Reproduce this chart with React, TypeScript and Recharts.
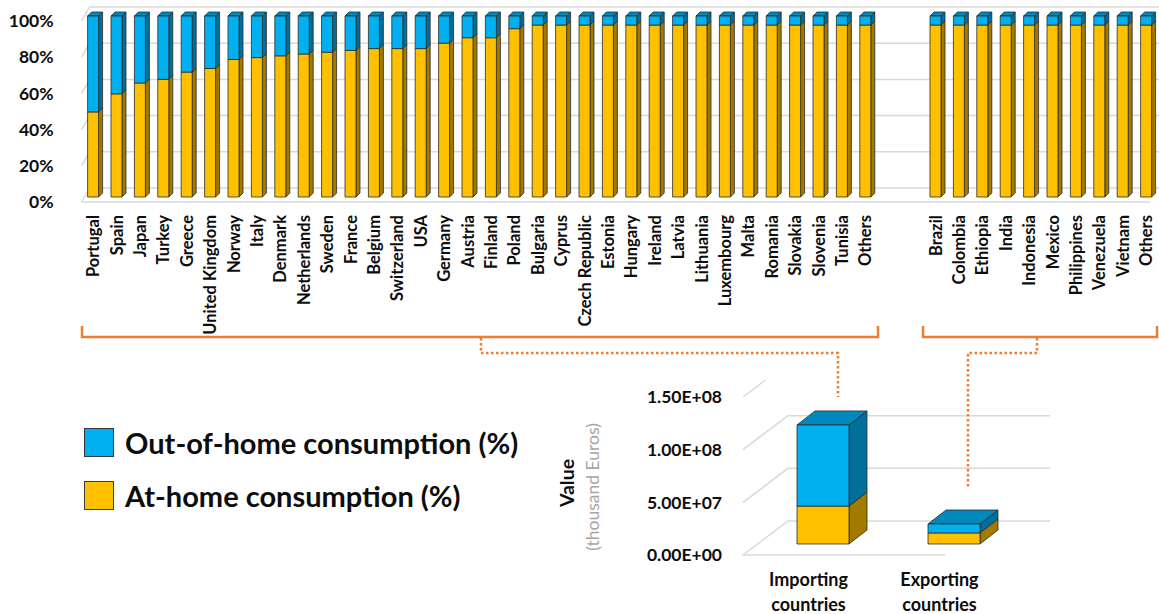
import { Bar, BarChart, CartesianGrid, Label, XAxis, YAxis } from "recharts";

const BLUE = "#00b0f0";
const BLUE_TOP = "#0089bd";
const BLUE_SIDE = "#006f99";
const GOLD = "#ffc000";
const GOLD_SIDE = "#a37a00";
const EDGE = "#2b2b2b";
const GRID = "#d9d9d9";
const ORANGE = "#ed7d31";
const INK = "#0d0d0d";
const FONT = "Lato, 'Open Sans', sans-serif";

// ── Share of at-home consumption per country (%) ────────────────────────────
const IMPORTERS = [
  "Portugal", "Spain", "Japan", "Turkey", "Greece", "United Kingdom", "Norway",
  "Italy", "Denmark", "Netherlands", "Sweden", "France", "Belgium", "Switzerland",
  "USA", "Germany", "Austria", "Finland", "Poland", "Bulgaria", "Cyprus",
  "Czech Republic", "Estonia", "Hungary", "Ireland", "Latvia", "Lithuania",
  "Luxembourg", "Malta", "Romania", "Slovakia", "Slovenia", "Tunisia", "Others",
];
const IMPORTER_AT_HOME = [
  47, 57, 63, 65, 69, 71, 76, 77, 78, 79, 80, 81, 82, 82, 82, 85, 88, 88, 93,
  95, 95, 95, 95, 95, 95, 95, 95, 95, 95, 95, 95, 95, 95, 95,
];
const EXPORTERS = [
  "Brazil", "Colombia", "Ethiopia", "India", "Indonesia", "Mexico",
  "Philippines", "Venezuela", "Vietnam", "Others",
];
const EXPORTER_AT_HOME = [95, 95, 95, 95, 95, 95, 95, 95, 95, 95];
const SHARE_TICKS = [0, 20, 40, 60, 80, 100];

// ── Total value by group (thousand Euros) ───────────────────────────────────
const GROUPS = ["Importing countries", "Exporting countries"];
const GROUP_AT_HOME = [3.6e7, 1.05e7];
const GROUP_OUT_OF_HOME = [7.7e7, 0.85e7];
const VALUE_TICKS = [0, 5e7, 1e8, 1.5e8];

const shareRow = (name: string, atHome: number | null) => ({
  name,
  atHome,
  outOfHome: atHome == null ? null : 100 - atHome,
});

const shareData = [
  ...IMPORTERS.map((n, i) => shareRow(n, IMPORTER_AT_HOME[i])),
  shareRow("", null),
  shareRow("", null),
  ...EXPORTERS.map((n, i) => shareRow(n, EXPORTER_AT_HOME[i])),
];

const valueData = GROUPS.map((name, i) => ({
  name,
  atHome: GROUP_AT_HOME[i],
  outOfHome: GROUP_OUT_OF_HOME[i],
}));

// front face + side face (+ lid on the top segment), pushed back into the floor
function Prism(props: any) {
  const { x, y, width: w, height: h, dx, dy, sx, sy, front, side, top, lid } = props;
  if (!w || h == null || h <= 0) return null;
  const X = x + sx;
  const Y = y + sy;
  const sidePts = `${X + w},${Y} ${X + w + dx},${Y - dy} ${X + w + dx},${Y + h - dy} ${X + w},${Y + h}`;
  const topPts = `${X},${Y} ${X + dx},${Y - dy} ${X + w + dx},${Y - dy} ${X + w},${Y}`;
  return (
    <g stroke={EDGE} strokeWidth={0.8} strokeLinejoin="round">
      <polygon points={sidePts} fill={side} />
      {lid && <polygon points={topPts} fill={top} />}
      <rect x={X} y={Y} width={w} height={h} fill={front} />
    </g>
  );
}

// back-wall gridline with a short slanted return to the front plane
function wallLine(dx: number, dy: number, floorY: number, floorEnd: number) {
  return (p: any) => {
    const { x1, x2, y1 } = p;
    return (
      <g key={p.key} stroke={GRID} strokeWidth={1.5} fill="none">
        <path d={`M${x1},${y1} L${x1 + dx},${y1 - dy} L${x2 + dx},${y1 - dy}`} />
        {Math.abs(y1 - floorY) < 1 && <path d={`M${x1},${y1} L${floorEnd},${y1}`} />}
      </g>
    );
  };
}

function CountryTick({ x, y, payload }: any) {
  if (!payload.value) return null;
  return (
    <text
      x={x}
      y={y + 13}
      dy="0.36em"
      textAnchor="end"
      transform={`rotate(-90 ${x} ${y + 13})`}
      fill={INK}
      style={{ fontFamily: FONT, fontWeight: 700, fontSize: 16.5 }}
    >
      {payload.value}
    </text>
  );
}

function GroupTick({ x, y, payload }: any) {
  const [a, b] = String(payload.value).split(" ");
  return (
    <text
      x={x}
      textAnchor="middle"
      fill={INK}
      style={{ fontFamily: FONT, fontWeight: 700, fontSize: 18 }}
    >
      <tspan x={x} y={y + 25} dy="0.35em">{a}</tspan>
      <tspan x={x} y={y + 50} dy="0.35em">{b}</tspan>
    </text>
  );
}

const sci = (v: number) => {
  const [m, e] = v.toExponential(2).split("e");
  const n = Number(e);
  return `${m.toUpperCase()}E${n < 0 ? "-" : "+"}${String(Math.abs(n)).padStart(2, "0")}`;
};

function SharesChart() {
  return (
    <BarChart
      width={1159}
      height={352}
      data={shareData}
      margin={{ top: 21, right: 1, bottom: 0, left: 0 }}
      barSize={11}
    >
      <CartesianGrid vertical={false} horizontal={wallLine(8, 14, 202, 1150)} />
      <XAxis
        dataKey="name"
        interval={0}
        height={150}
        axisLine={false}
        tickLine={false}
        tickSize={0}
        tickMargin={0}
        tick={<CountryTick />}
      />
      <YAxis
        width={81.6}
        domain={[0, 100]}
        ticks={SHARE_TICKS}
        axisLine={false}
        tickLine={false}
        tickSize={0}
        tickMargin={28}
        tickFormatter={(v) => `${v}%`}
        tick={{ fill: INK, fontFamily: FONT, fontWeight: 700, fontSize: 17.5 }}
      />
      <Bar
        dataKey="atHome"
        stackId="s"
        fill={GOLD}
        isAnimationActive={false}
        shape={(p: any) => (
          <Prism {...p} dx={4} dy={4} sx={0} sy={-5} front={GOLD} side={GOLD_SIDE} />
        )}
      />
      <Bar
        dataKey="outOfHome"
        stackId="s"
        fill={BLUE}
        isAnimationActive={false}
        shape={(p: any) => (
          <Prism {...p} dx={4} dy={4} sx={0} sy={-5} front={BLUE} side={BLUE_SIDE} top={BLUE_TOP} lid />
        )}
      />
    </BarChart>
  );
}

function ValueChart() {
  return (
    <BarChart
      width={519}
      height={234}
      data={valueData}
      margin={{ top: 17, right: 54, bottom: 0, left: 0 }}
      barSize={52}
    >
      <CartesianGrid vertical={false} horizontal={wallLine(45, 34, 175, 405)} />
      <XAxis
        dataKey="name"
        interval={0}
        height={59}
        axisLine={false}
        tickLine={false}
        tickSize={0}
        tickMargin={0}
        tick={<GroupTick />}
      />
      <YAxis
        width={203}
        domain={[0, 1.5e8]}
        ticks={VALUE_TICKS}
        axisLine={false}
        tickLine={false}
        tickSize={0}
        tickMargin={21}
        tickFormatter={sci}
        tick={{ fill: INK, fontFamily: FONT, fontWeight: 700, fontSize: 17.5 }}
      >
        <Label
          content={() => (
            <g style={{ fontFamily: FONT }}>
              <text
                x={27}
                y={103}
                dy="0.35em"
                textAnchor="middle"
                transform="rotate(-90 27 103)"
                fill={INK}
                style={{ fontWeight: 700, fontSize: 19.5 }}
              >
                Value
              </text>
              <text
                x={53}
                y={107}
                dy="0.35em"
                textAnchor="middle"
                transform="rotate(-90 53 107)"
                fill="#a6a6a6"
                style={{ fontSize: 17.5 }}
              >
                (thousand Euros)
              </text>
            </g>
          )}
        />
      </YAxis>
      <Bar
        dataKey="atHome"
        stackId="v"
        fill={GOLD}
        isAnimationActive={false}
        shape={(p: any) => (
          <Prism {...p} dx={18} dy={14} sx={14} sy={-11} front={GOLD} side={GOLD_SIDE} />
        )}
      />
      <Bar
        dataKey="outOfHome"
        stackId="v"
        fill={BLUE}
        isAnimationActive={false}
        shape={(p: any) => (
          <Prism {...p} dx={18} dy={14} sx={14} sy={-11} front={BLUE} side={BLUE_SIDE} top={BLUE_TOP} lid />
        )}
      />
    </BarChart>
  );
}

function LegendRow({ color, text, top }: { color: string; text: string; top: number }) {
  return (
    <div style={{ position: "absolute", left: 84, top, display: "flex", alignItems: "center" }}>
      <div style={{ width: 28, height: 27, background: color, border: "1.5px solid #3a3a3a" }} />
      <span
        style={{
          marginLeft: 11,
          fontFamily: FONT,
          fontWeight: 700,
          fontSize: 29,
          color: INK,
          whiteSpace: "nowrap",
        }}
      >
        {text}
      </span>
    </div>
  );
}

export default function App() {
  return (
    <div
      style={{
        position: "absolute",
        left: 0,
        top: 0,
        width: 1159,
        height: 614,
        background: "#fff",
        overflow: "hidden",
      }}
    >
      <div style={{ position: "absolute", left: 0, top: 0 }}>
        <SharesChart />
      </div>
      <div style={{ position: "absolute", left: 540, top: 380 }}>
        <ValueChart />
      </div>

      <LegendRow color={BLUE} text="Out-of-home consumption (%)" top={425} />
      <LegendRow color={GOLD} text="At-home consumption (%)" top={478} />

      {/* brackets grouping the countries, and dotted leaders to the totals */}
      <svg
        width={1159}
        height={614}
        style={{ position: "absolute", left: 0, top: 0, pointerEvents: "none" }}
      >
        <g fill="none" stroke={ORANGE} strokeWidth={2.5}>
          <path d="M82,326 V337 H878 V326" />
          <path d="M923,326 V337 H1157 V326" />
        </g>
        <g fill="none" stroke={ORANGE} strokeWidth={2.5} strokeDasharray="2.5 2.5">
          <path d="M481,338 V353 H838 V397" />
          <path d="M1037,338 V353 H968 V487" />
        </g>
      </svg>
    </div>
  );
}
